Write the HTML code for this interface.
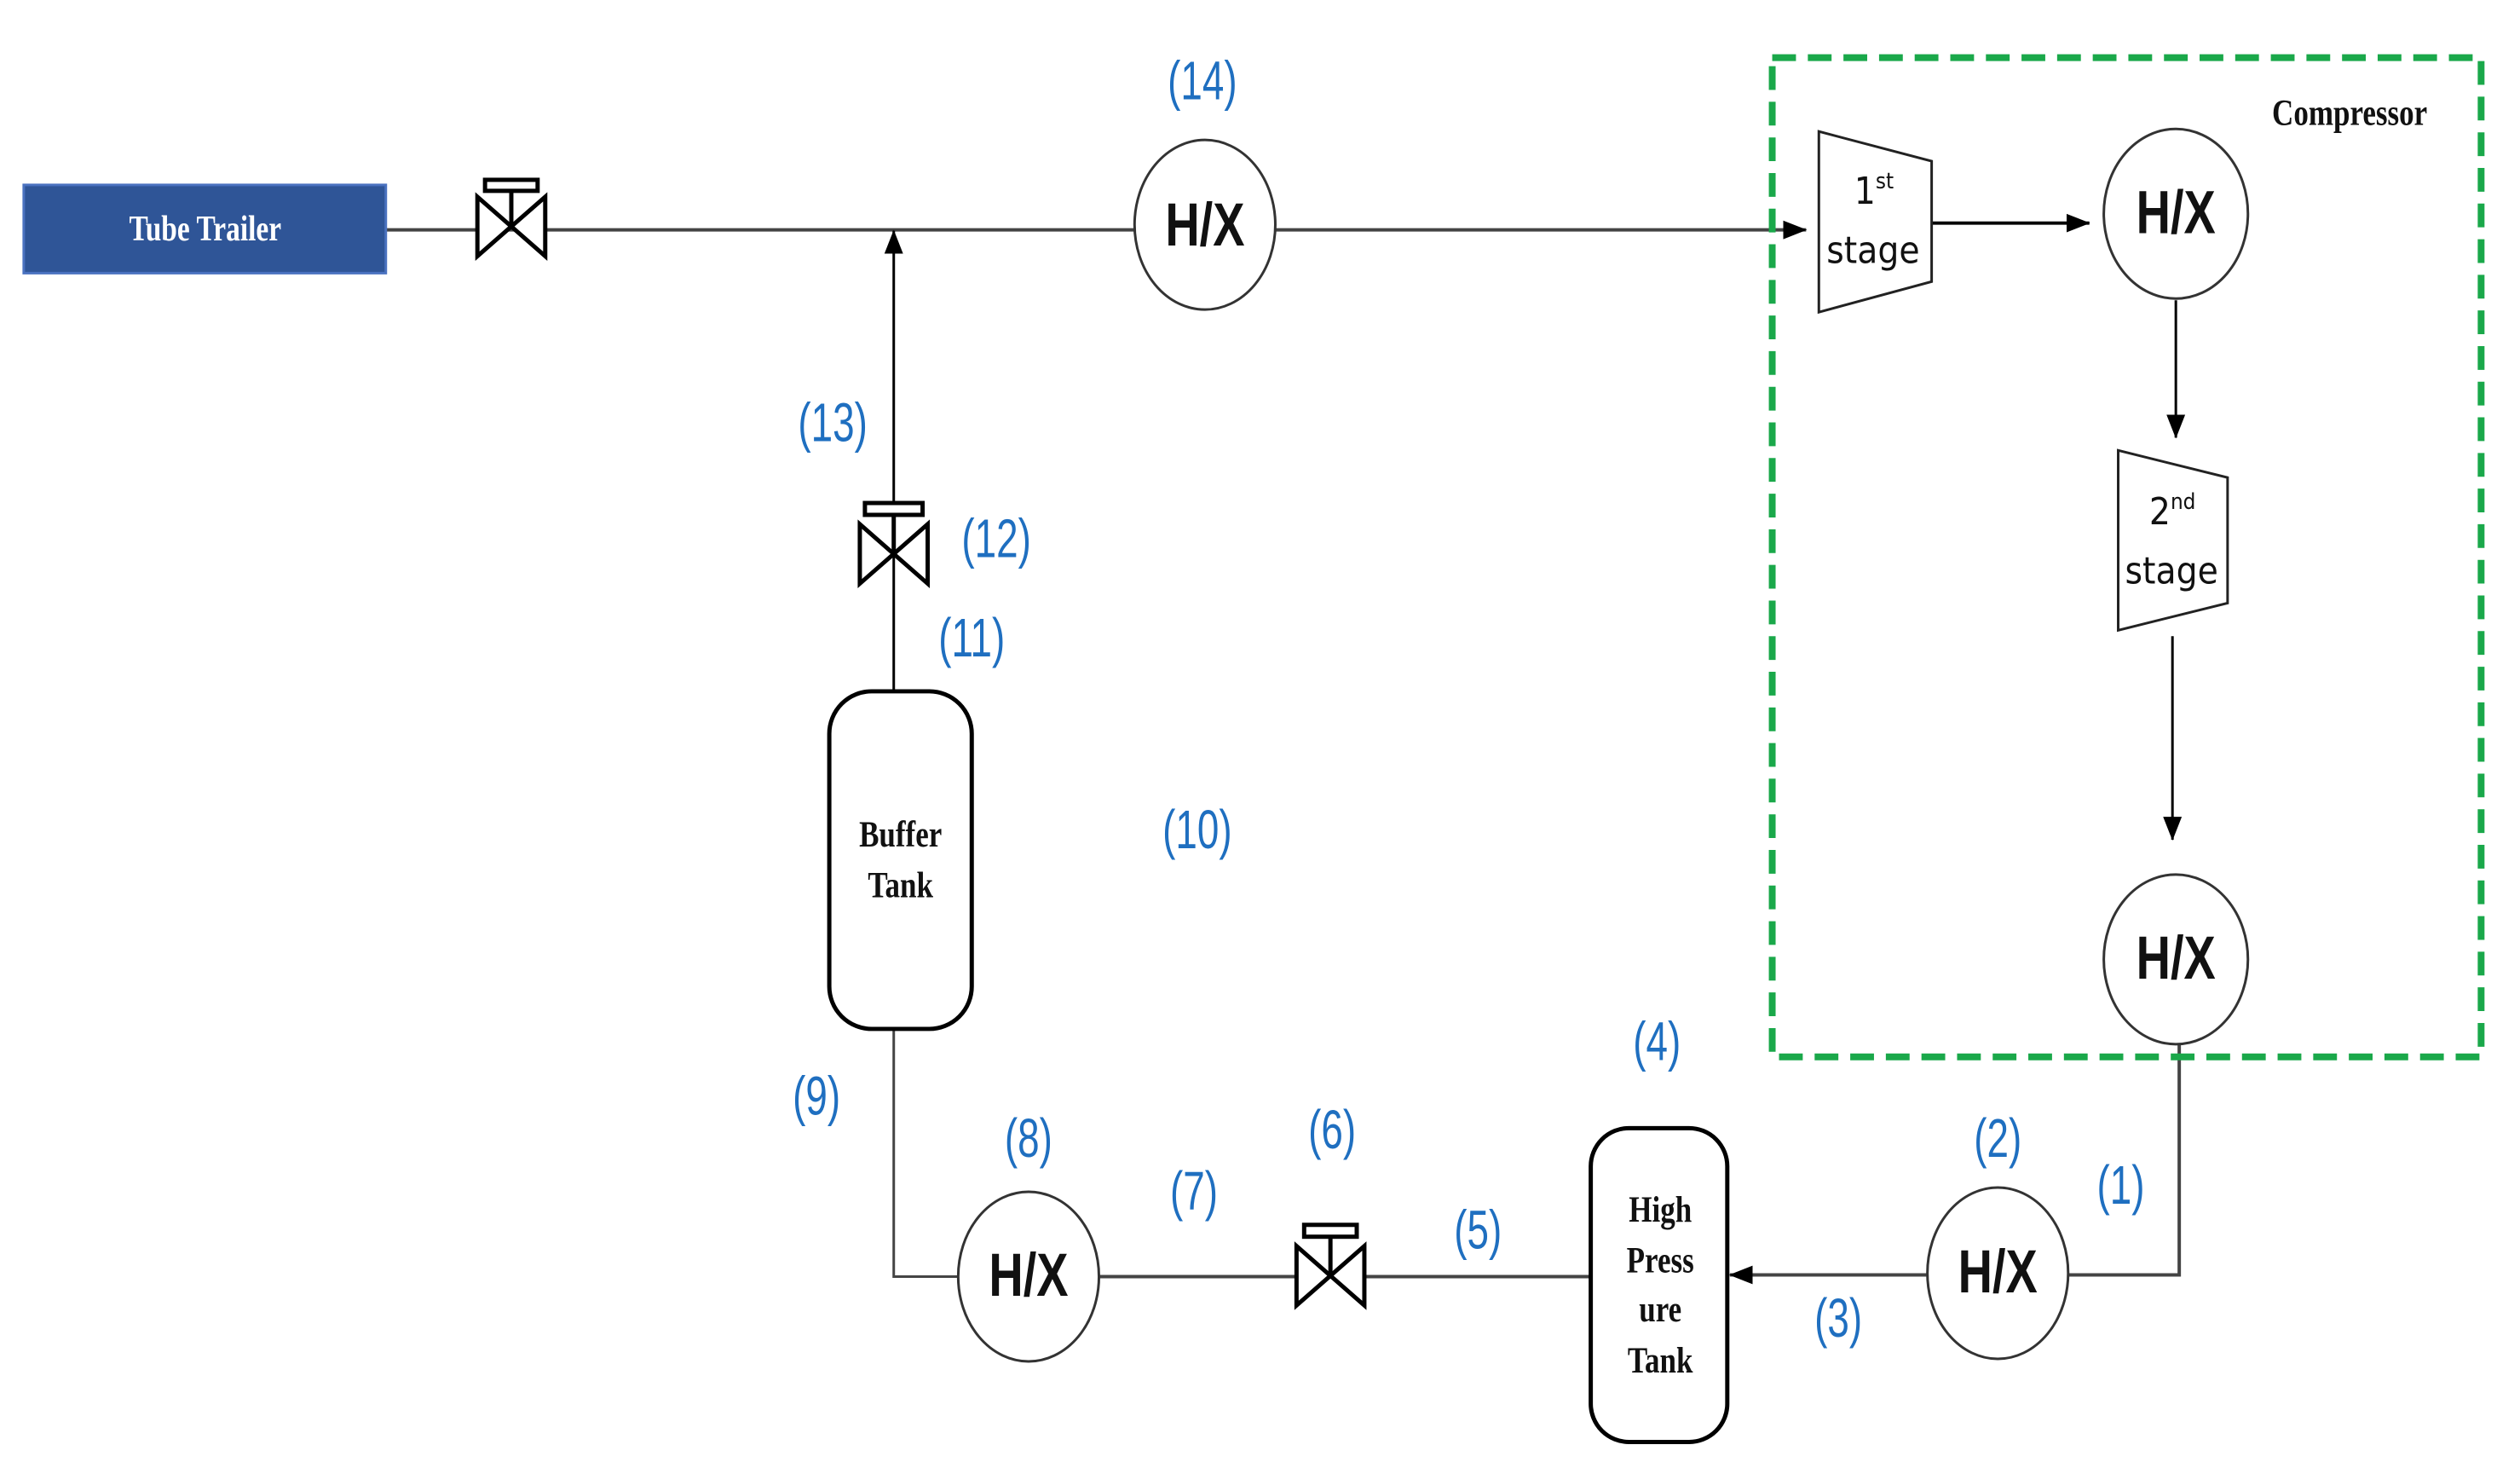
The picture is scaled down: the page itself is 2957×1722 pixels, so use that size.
<!DOCTYPE html>
<html><head><meta charset="utf-8"><style>
html,body{margin:0;padding:0;background:#fff;}
svg{display:block;}
.lb{font-family:"Liberation Sans",sans-serif;font-size:64px;fill:#1f6fc0;text-anchor:middle;dominant-baseline:central;transform-box:fill-box;transform-origin:center;transform:scaleX(0.72);}
.hx{font-family:"Liberation Sans",sans-serif;font-size:72px;font-weight:bold;fill:#111;text-anchor:middle;dominant-baseline:central;transform-box:fill-box;transform-origin:center;transform:scaleX(0.78);}
.st{font-family:"DejaVu Sans Condensed","DejaVu Sans",sans-serif;font-size:44px;fill:#111;text-anchor:middle;}
.sr{font-family:"Liberation Serif",serif;font-weight:bold;fill:#111;text-anchor:middle;transform-box:fill-box;transform-origin:center;transform:scaleX(0.8);}
</style></head><body>
<svg width="2957" height="1722" viewBox="0 0 2957 1722" xmlns="http://www.w3.org/2000/svg">
<defs>
<marker id="b" markerWidth="28" markerHeight="28" refX="27" refY="14" orient="auto" markerUnits="userSpaceOnUse"><path d="M0,3 L28,14 L0,25z" fill="#000"/></marker></defs>
<g transform="scale(0.995)">
<g stroke="#444" stroke-width="4" fill="none">
<line x1="455" y1="271" x2="1338" y2="271"/>
<line x1="1504" y1="271" x2="2130" y2="271" marker-end="url(#b)"/>
<line x1="1054" y1="815" x2="1054" y2="272" marker-end="url(#b)" stroke="#000" stroke-width="3"/>
<line x1="2278" y1="263" x2="2464" y2="263" stroke="#000" marker-end="url(#b)"/>
<line x1="2566" y1="354" x2="2566" y2="516" stroke="#000" stroke-width="3" marker-end="url(#b)"/>
<line x1="2562" y1="750" x2="2562" y2="990" stroke="#000" stroke-width="3" marker-end="url(#b)"/>
<polyline points="2570,1232 2570,1503 2440,1503"/>
<line x1="2273" y1="1503" x2="2040" y2="1503" marker-end="url(#b)"/>
<line x1="1876" y1="1505" x2="1296" y2="1505"/>
<polyline points="1130,1505 1054,1505 1054,1213" stroke-width="3"/>
</g>
<rect x="28" y="218" width="427" height="104" fill="#2f5597" stroke="#4a72c0" stroke-width="3"/>
<text x="242" y="270" class="sr" font-size="42" style="fill:#fff;dominant-baseline:central">Tube Trailer</text>
<g stroke="#000" stroke-width="5" fill="#fff">
<path d="M563,232 L643,302 L643,232 L563,302 Z"/><line x1="603" y1="267" x2="603" y2="224"/><rect x="572" y="212" width="62" height="13" fill="#fff"/>
<path d="M1014,618 L1094,688 L1094,618 L1014,688 Z"/><line x1="1054" y1="653" x2="1054" y2="606"/><rect x="1020" y="593" width="68" height="14"/>
<path d="M1529,1469 L1609,1539 L1609,1469 L1529,1539 Z"/><line x1="1569" y1="1504" x2="1569" y2="1458"/><rect x="1538" y="1444" width="62" height="14"/>
</g>
<rect x="2090" y="68" width="836" height="1178" fill="none" stroke="#1aa84a" stroke-width="8" stroke-dasharray="28,14"/>
<text x="2771" y="133" class="sr" font-size="44" style="dominant-baseline:central">Compressor</text>
<g fill="#fff" stroke="#333" stroke-width="3">
<ellipse cx="1421" cy="265" rx="83" ry="100"/>
<ellipse cx="2566" cy="252" rx="85" ry="100"/>
<ellipse cx="2566" cy="1131" rx="85" ry="100"/>
<ellipse cx="2356" cy="1501" rx="83" ry="101"/>
<ellipse cx="1213" cy="1505" rx="83" ry="100"/>
</g>
<text class="hx" x="1421" y="265">H/X</text>
<text class="hx" x="2566" y="250">H/X</text>
<text class="hx" x="2566" y="1129">H/X</text>
<text class="hx" x="2356" y="1499">H/X</text>
<text class="hx" x="1213" y="1503">H/X</text>
<g fill="#fff" stroke="#222" stroke-width="3">
<polygon points="2145,155 2278,190 2278,332 2145,368"/>
<polygon points="2498,531 2627,563 2627,711 2498,743"/>
</g>
<text class="st" x="2210" y="240">1<tspan font-size="26" dy="-18">st</tspan></text>
<text class="st" x="2209" y="310">stage</text>
<text class="st" x="2562" y="618">2<tspan font-size="26" dy="-18">nd</tspan></text>
<text class="st" x="2561" y="688">stage</text>
<rect x="978" y="815" width="168" height="398" rx="50" ry="50" fill="#fff" stroke="#000" stroke-width="5"/>
<text class="sr" font-size="44" x="1062" y="998">Buffer</text>
<text class="sr" font-size="44" x="1062" y="1058">Tank</text>
<rect x="1876" y="1330" width="161" height="370" rx="45" ry="45" fill="#fff" stroke="#000" stroke-width="5"/>
<text class="sr" font-size="44" x="1958" y="1440">High</text>
<text class="sr" font-size="44" x="1958" y="1500">Press</text>
<text class="sr" font-size="44" x="1958" y="1558">ure</text>
<text class="sr" font-size="44" x="1958" y="1618">Tank</text>
<text class="lb" x="1418" y="95">(14)</text>
<text class="lb" x="982" y="498">(13)</text>
<text class="lb" x="1175" y="635">(12)</text>
<text class="lb" x="1146" y="752">(11)</text>
<text class="lb" x="1412" y="978">(10)</text>
<text class="lb" x="963" y="1292">(9)</text>
<text class="lb" x="1213" y="1342">(8)</text>
<text class="lb" x="1408" y="1404">(7)</text>
<text class="lb" x="1571" y="1332">(6)</text>
<text class="lb" x="1743" y="1450">(5)</text>
<text class="lb" x="1954" y="1228">(4)</text>
<text class="lb" x="2168" y="1554">(3)</text>
<text class="lb" x="2356" y="1342">(2)</text>
<text class="lb" x="2501" y="1397">(1)</text>
</g>
</svg>
</body></html>
